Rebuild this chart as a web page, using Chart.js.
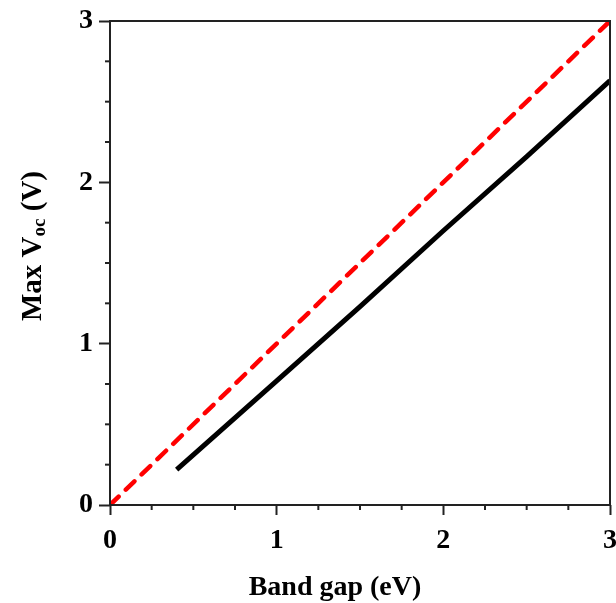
<!DOCTYPE html>
<html>
<head>
<meta charset="utf-8">
<script src="https://cdn.jsdelivr.net/npm/chart.js@4/dist/chart.umd.min.js"></script>
<style>
html,body{margin:0;padding:0;background:#fff;}
#wrap{width:616px;height:603px;position:relative;overflow:hidden;}
</style>
</head>
<body>
<div id="wrap"><canvas id="c"></canvas></div>
<script>
// Data
const bandGap = [0.4, 1.0, 1.5, 2.0, 2.5, 3.0];
const maxVoc = [0.22, 0.77, 1.23, 1.70, 2.16, 2.63];
const idealGap = [0, 3];
const idealVoc = [0, 3];
const xTitle = 'Band gap (eV)';
const yTitleMain = 'Max V';
const yTitleSub = 'oc';
const yTitleEnd = ' (V)';
const axisMin = 0, axisMax = 3, minorStep = 0.25;

const FONT = '"Liberation Serif", "Times New Roman", serif';
const isMajor = v => Math.abs(v - Math.round(v)) < 1e-9;

const framePlugin = {
  id: 'frame',
  afterDraw(chart) {
    const {ctx, chartArea: a, scales} = chart;
    ctx.save();
    ctx.strokeStyle = '#222';
    ctx.lineWidth = 2;
    ctx.strokeRect(a.left, a.top, a.right - a.left, a.bottom - a.top);
    // minor ticks
    for (let v = axisMin; v <= axisMax + 1e-9; v += minorStep) {
      if (isMajor(v)) continue;
      const px = scales.x.getPixelForValue(v);
      ctx.beginPath(); ctx.moveTo(px, a.bottom); ctx.lineTo(px, a.bottom + 5); ctx.stroke();
      const py = scales.y.getPixelForValue(v);
      ctx.beginPath(); ctx.moveTo(a.left, py); ctx.lineTo(a.left - 5, py); ctx.stroke();
    }
    // x title
    ctx.fillStyle = '#000';
    ctx.font = 'bold 28px ' + FONT;
    ctx.textAlign = 'center';
    ctx.textBaseline = 'alphabetic';
    ctx.fillText(xTitle, 335, 595);
    // y title (rotated, with subscript)
    ctx.translate(41, 246);
    ctx.rotate(-Math.PI / 2);
    const big = 'bold 29px ' + FONT, small = 'bold 19px ' + FONT;
    ctx.font = big; const w1 = ctx.measureText(yTitleMain).width;
    const w3 = ctx.measureText(yTitleEnd).width;
    ctx.font = small; const w2 = ctx.measureText(yTitleSub).width;
    let x = -(w1 + w2 + w3) / 2;
    ctx.textAlign = 'left';
    ctx.font = big; ctx.fillText(yTitleMain, x, 0); x += w1;
    ctx.font = small; ctx.fillText(yTitleSub, x, 4); x += w2;
    ctx.font = big; ctx.fillText(yTitleEnd, x, 0);
    ctx.restore();
  }
};

const tickColor = ctx => (ctx.tick && isMajor(ctx.tick.value)) ? '#222' : 'rgba(0,0,0,0)';
const tickLabel = v => isMajor(v) ? String(Math.round(v)) : '';

new Chart(document.getElementById('c'), {
  type: 'scatter',
  data: {
    datasets: [
      {
        label: 'Ideal',
        data: idealGap.map((g, i) => ({x: g, y: idealVoc[i]})),
        showLine: true,
        borderColor: '#ff0000',
        borderWidth: 4.5,
        borderDash: [12, 10],
        borderCapStyle: 'round',
        pointRadius: 0,
        fill: false
      },
      {
        label: 'Max Voc',
        data: bandGap.map((g, i) => ({x: g, y: maxVoc[i]})),
        showLine: true,
        borderColor: '#000000',
        borderWidth: 5,
        pointRadius: 0,
        fill: false
      }
    ]
  },
  options: {
    responsive: true,
    maintainAspectRatio: false,
    animation: false,
    layout: {padding: {top: 21, right: 6, left: 0, bottom: 0}},
    plugins: {legend: {display: false}, tooltip: {enabled: false}},
    scales: {
      x: {
        type: 'linear', min: axisMin, max: axisMax,
        afterFit(s) { s.height = 98; s.paddingRight = 0; s.paddingLeft = 0; },
        border: {display: false},
        grid: {drawOnChartArea: false, tickLength: 10, tickWidth: 2, color: tickColor},
        ticks: {stepSize: minorStep, autoSkip: false, maxRotation: 0, padding: 9, color: '#000',
          font: {family: FONT, size: 28, weight: 'bold'}, callback: tickLabel}
      },
      y: {
        type: 'linear', min: axisMin, max: axisMax,
        afterFit(s) { s.width = 110; s.paddingTop = 0; s.paddingBottom = 0; },
        border: {display: false},
        grid: {drawOnChartArea: false, tickLength: 11, tickWidth: 2, color: tickColor},
        ticks: {stepSize: minorStep, autoSkip: false, padding: 6, color: '#000',
          font: {family: FONT, size: 28, weight: 'bold'}, callback: tickLabel}
      }
    }
  },
  plugins: [framePlugin]
});
</script>
</body>
</html>
